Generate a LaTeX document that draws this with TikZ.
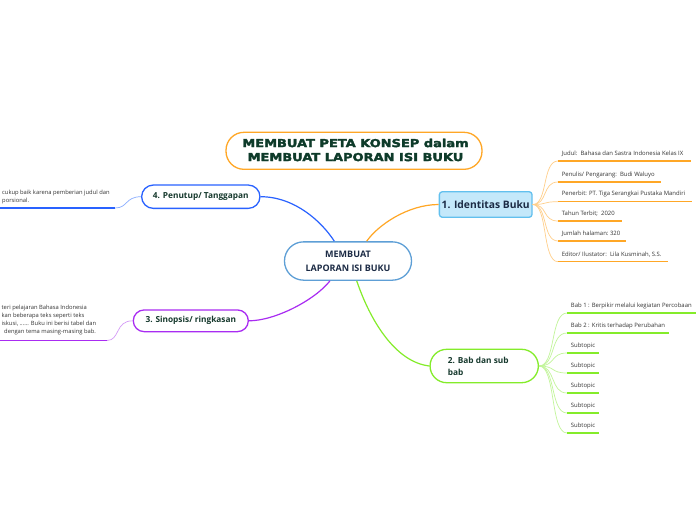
\documentclass[tikz,border=0pt]{standalone}
\usepackage{fontspec}
\setmainfont{Open Sans}
\newfontfamily\titlefont{DejaVu Sans}[BoldFeatures={FakeBold=2.5}]
\usetikzlibrary{calc}
\definecolor{orangeC}{HTML}{FFA726}
\definecolor{orangeL}{HTML}{FFCF8A}
\definecolor{blueC}{HTML}{2962FF}
\definecolor{blueL}{HTML}{8AAEFF}
\definecolor{greenC}{HTML}{84EC2A}
\definecolor{greenL}{HTML}{C2F59A}
\definecolor{purpleC}{HTML}{A92CF2}
\definecolor{purpleL}{HTML}{D59CF7}
\definecolor{centerB}{HTML}{5E9FD6}
\definecolor{idFill}{HTML}{C4E8FA}
\definecolor{idBorder}{HTML}{62C0EE}
\definecolor{darkG}{HTML}{16392D}
\definecolor{titleG}{HTML}{0E3B2A}
\definecolor{navy}{HTML}{1C2B45}
\definecolor{leafT}{HTML}{333333}
\tikzset{
  pill/.style={draw, line width=1.3pt, fill=white, inner sep=0pt},
  mainline/.style={line width=1.2pt},
  twig/.style={line width=0.7pt},
  underl/.style={line width=1.5pt},
  leaf/.style={font=\fontsize{5.95}{7}\selectfont, text=leafT, inner sep=0pt, anchor=west},
  nodetext/.style={font=\fontsize{8.3}{11.3}\selectfont\bfseries, text=darkG, inner sep=0pt},
}
\begin{document}
\begin{tikzpicture}[x=1pt,y=-1pt]
\useasboundingbox[fill=white] (0,0) rectangle (696,520);

% title
\node[pill, draw=orangeC, rounded corners=18pt, minimum width=256pt, minimum height=37pt] (title) at (354,150.8) {};
\node[font=\titlefont\fontsize{11}{14}\selectfont\bfseries, text=titleG, align=center, inner sep=0pt] (titlet) at (355.5,150) {\scalebox{1.18}[1]{MEMBUAT PETA KONSEP dalam}\\\scalebox{1.18}[1]{MEMBUAT LAPORAN ISI BUKU}};

% centre
\node[pill, draw=centerB, rounded corners=19pt, minimum width=127pt, minimum height=38.3pt] (center) at (348,261) {};
\node[font=\fontsize{9}{14}\selectfont\bfseries, text=navy, align=center, inner sep=0pt] (centert) at (348,261) {MEMBUAT\\LAPORAN ISI BUKU};

% main topics
\node[draw=idBorder, fill=idFill, line width=1.3pt, rounded corners=3pt, minimum width=92.7pt, minimum height=25.6pt, inner sep=0pt, font=\fontsize{10.3}{12}\selectfont\bfseries, text=navy] (ident) at (485.7,204.5) {1. Identitas Buku};

\node[pill, draw=greenC, rounded corners=16.7pt, minimum width=108.3pt, minimum height=33.4pt] (bab) at (484.2,366) {};
\node[nodetext, align=left, anchor=west] (babt) at (447.7,366.5) {2. Bab dan sub\\bab};

\node[pill, draw=purpleC, rounded corners=10.8pt, minimum width=115pt, minimum height=21.7pt, nodetext] (sinop) at (190.8,320.8) {3. Sinopsis/ ringkasan};

\node[pill, draw=blueC, rounded corners=11.6pt, minimum width=118.3pt, minimum height=23.3pt, nodetext] (penut) at (200.8,196.7) {4. Penutup/ Tanggapan};

% main connectors
\draw[mainline, blueC] ($(center.north)+(-13.7,0)$) .. controls (322,222) and (295,196.7) .. (penut.east);
\draw[mainline, orangeC] ($(center.north)+(18.7,0)$) .. controls (378,225) and (408,204.5) .. (ident.west);
\draw[mainline, purpleC] ($(center.south)+(-18,0)$) .. controls (315,300) and (275,320.8) .. (sinop.east);
\draw[mainline, greenC] ($(center.south)+(8.7,0)$) .. controls (370,320) and (395,362) .. (bab.west);

% identitas leaves
\foreach \n/\y/\e/\t in {j/161/691/{Judul:\ \ Bahasa dan Sastra Indonesia Kelas IX},
                        p/182/661/{Penulis/ Pengarang:\ \ Budi Waluyo},
                        t/201.7/692/{Penerbit: PT. Tiga Serangkai Pustaka Mandiri},
                        h/221/621.7/{Tahun Terbit;\ \ 2020},
                        m/241/626/{Jumlah halaman:\ 320},
                        e/261.7/667.7/{Editor/ Ilustator:\ \ Lila Kusminah, S.S.}}{
  \coordinate (id\n a) at (558,\y);
  \coordinate (id\n b) at (\e,\y);
  \draw[twig, orangeL] (ident.east) .. controls (548,204.5) and (542,\y) .. (id\n a);
  \draw[underl, orangeC] (id\n a) -- (id\n b);
  \node[leaf] (id\n t) at (561.7,\y-7.3) {\t};
}

% bab leaves
\foreach \n/\y/\e/\t in {a/313/697/{Bab 1 : Berpikir melalui kegiatan Percobaan},
                        b/333/669/{Bab 2 : Kritis terhadap Perubahan},
                        c/353/599/{Subtopic},
                        d/373/599/{Subtopic},
                        f/393/599/{Subtopic},
                        g/413/599/{Subtopic},
                        h/433/599/{Subtopic}}{
  \coordinate (bb\n a) at (567,\y);
  \coordinate (bb\n b) at (\e,\y);
  \draw[twig, greenL] (bab.east) .. controls (556,366) and (550,\y) .. (bb\n a);
  \draw[underl, greenC] (bb\n a) -- (bb\n b);
  \node[leaf] (bb\n t) at (570.7,\y-7.3) {\t};
}

% sinopsis leaf
\coordinate (sna) at (107,340.5);
\coordinate (snb) at (-2,340.5);
\draw[twig, purpleL] (sinop.west) .. controls (115,320.8) and (120,340.5) .. (sna);
\draw[underl, purpleC] (sna) -- (snb);
\node[leaf, anchor=north west, align=left, font=\fontsize{5.8}{8.2}\selectfont] (snt) at (1.5,304.5) {teri pelajaran Bahasa Indonesia\\kan beberapa teks seperti teks\\iskusi, ...... Buku ini berisi tabel dan\\\hspace*{2.5pt}dengan tema masing-masing bab.};

% penutup leaf
\coordinate (pna) at (115,208);
\coordinate (pnb) at (-2,208);
\draw[twig, blueL] (penut.west) .. controls (125,196.7) and (128,208) .. (pna);
\draw[underl, blueC] (pna) -- (pnb);
\node[leaf, anchor=north west, align=left, font=\fontsize{5.8}{8.3}\selectfont] (pnt) at (2,189.8) {cukup baik karena pemberian judul dan\\porsional.};
\end{tikzpicture}
\end{document}
